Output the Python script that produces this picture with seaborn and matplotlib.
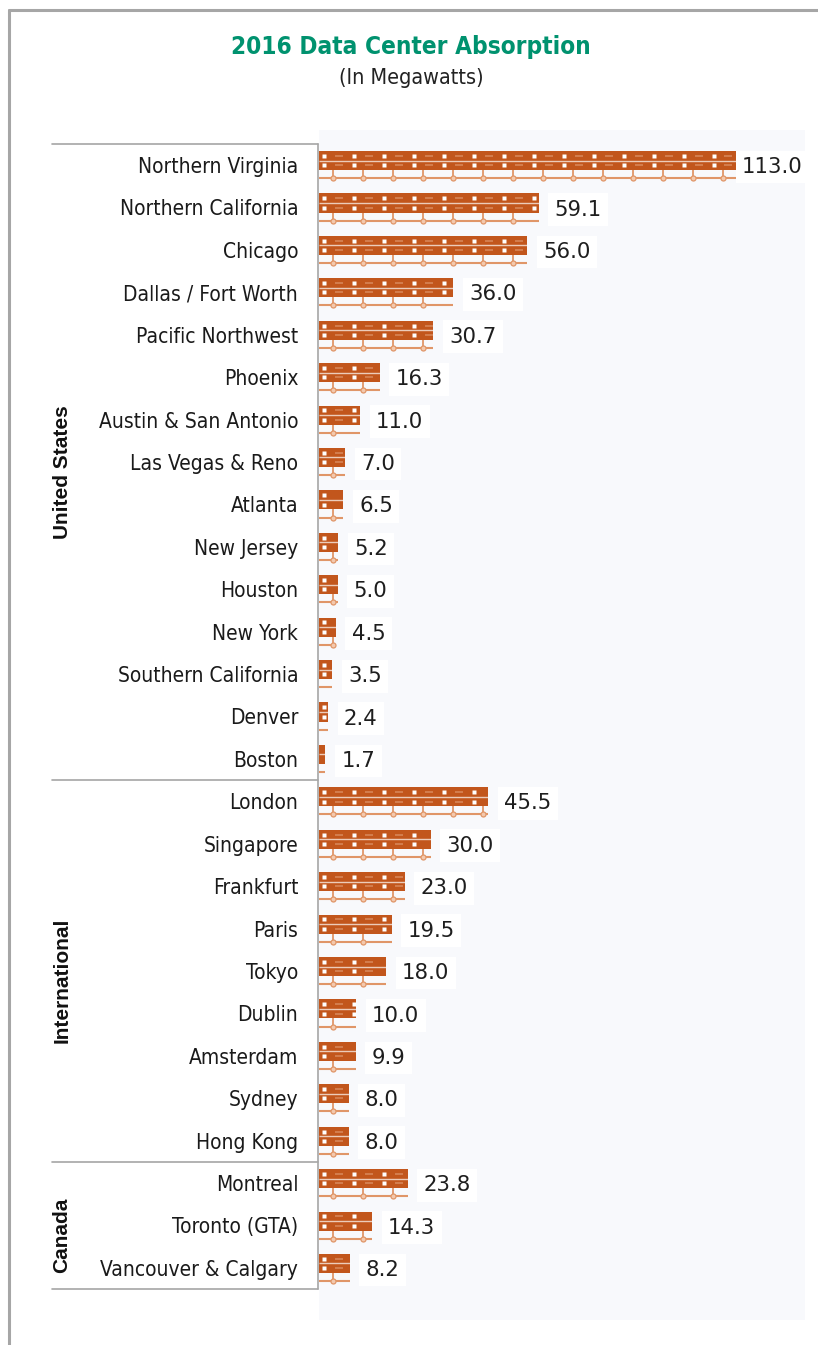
import matplotlib
matplotlib.use("Agg")
import matplotlib.pyplot as plt
from matplotlib import font_manager as fm
import seaborn as sns
import pandas as pd
import numpy as np
from matplotlib.lines import Line2D

# ---------------- data ----------------
us_cities = ["Northern Virginia", "Northern California", "Chicago", "Dallas / Fort Worth",
             "Pacific Northwest", "Phoenix", "Austin & San Antonio", "Las Vegas & Reno",
             "Atlanta", "New Jersey", "Houston", "New York", "Southern California",
             "Denver", "Boston"]
us_values = [113.0, 59.1, 56.0, 36.0, 30.7, 16.3, 11.0, 7.0, 6.5, 5.2, 5.0, 4.5, 3.5, 2.4, 1.7]

intl_cities = ["London", "Singapore", "Frankfurt", "Paris", "Tokyo", "Dublin",
               "Amsterdam", "Sydney", "Hong Kong"]
intl_values = [45.5, 30.0, 23.0, 19.5, 18.0, 10.0, 9.9, 8.0, 8.0]

canada_cities = ["Montreal", "Toronto (GTA)", "Vancouver & Calgary"]
canada_values = [23.8, 14.3, 8.2]

region_names = ["United States", "International", "Canada"]

title = "2016 Data Center Absorption"
subtitle = "(In Megawatts)"

# ---------------- build table ----------------
cities = us_cities + intl_cities + canada_cities
values = us_values + intl_values + canada_values
regions = ([region_names[0]] * len(us_cities) + [region_names[1]] * len(intl_cities)
           + [region_names[2]] * len(canada_cities))
df = pd.DataFrame({"city": cities, "value": values, "region": regions})

sns.set_theme(style="white")
plt.rcParams["font.family"] = ["DejaVu Sans"]

# condensed face if available
cond_path = fm.findfont(fm.FontProperties(family="DejaVu Sans", stretch="condensed"))
HAS_COND = "Condensed" in cond_path
NARROW_KW = dict(family="DejaVu Sans", fontstretch="condensed") if HAS_COND else dict(family="DejaVu Sans")
scale = 1.0 if HAS_COND else 0.9

BAR = "#C2561C"
LIGHT = "#E09668"
GREEN = "#00926F"
GRAY = "#A6A6A6"

W, H = 818, 1345
fig = plt.figure(figsize=(W / 100, H / 100), dpi=100)
fig.patch.set_facecolor("white")

ax_left, ax_right = 319, 805
ax_top, ax_bot = 130, 1320
ax = fig.add_axes([ax_left / W, 1 - ax_bot / H, (ax_right - ax_left) / W, (ax_bot - ax_top) / H])
ax.set_facecolor("#F8F9FC")

sns.barplot(data=df, y="city", x="value", orient="h", order=cities, color=BAR,
            saturation=1, width=0.45, ax=ax, errorbar=None)

step_px = 42.42
ymin_d = (ax_top - 165) / step_px
ymax_d = (ax_bot - 165) / step_px
xmax_d = (ax_right - ax_left) / 3.72
ax.set_ylim(ymax_d, ymin_d)
ax.set_xlim(0, xmax_d)

shift = -0.105
for p in ax.patches:
    p.set_y(p.get_y() + shift)
    p.set_edgecolor("none")

unit = 8.06
for i, v in enumerate(values):
    mid = i + shift
    ax.hlines(mid, 0, v, color="white", lw=1.0, alpha=0.7, zorder=3)
    ax.hlines(i + 0.31, 0, v, color=LIGHT, lw=1.5, zorder=2)
    dx = np.arange(1.3, v - 0.6, unit)
    if len(dx):
        for yy in (i - 0.215, i + 0.005):
            ax.plot(dx, [yy] * len(dx), ls="none", marker="s", ms=2.4,
                    mfc="white", mec="none", zorder=4)
            sx = dx + 4.0
            sx = sx[sx < v - 1.2]
            ax.plot(sx, [yy] * len(sx), ls="none", marker="_", ms=6, mew=1.1,
                    color="#D9895C", zorder=4)
    nx = np.arange(3.8, v - 0.6, unit)
    if len(nx):
        ax.vlines(nx, i + 0.12, i + 0.31, color=LIGHT, lw=1.3, zorder=2)
        ax.plot(nx, [i + 0.31] * len(nx), ls="none", marker="o", ms=3.6,
                mfc="#F3C9AE", mec=LIGHT, mew=0.9, zorder=3)

vmax = max(values)
for i, v in enumerate(values):
    pad = 2 if v == vmax else 11.5
    ax.annotate(f"{v:.1f}", xy=(v, i + 0.05), xytext=(pad, 0), textcoords="offset points",
                va="center", ha="left", fontsize=15.3, color="#1E1E1E",
                family="DejaVu Sans", annotation_clip=False,
                bbox=dict(boxstyle="square,pad=0.3", fc="white", ec="none"), zorder=5)

# axes cosmetics
for s in ax.spines.values():
    s.set_visible(False)
ax.set_xlabel("")
ax.set_ylabel("")
ax.set_xticks([])
ax.tick_params(axis="y", length=0, pad=15)
for lab in ax.get_yticklabels():
    lab.set_fontfamily(NARROW_KW["family"])
    if HAS_COND:
        lab.set_fontstretch("condensed")
    lab.set_fontsize(15 * scale)
    lab.set_color("#1A1A1A")

trans = ax.get_yaxis_transform()
n_us, n_int, n_ca = len(us_cities), len(intl_cities), len(canada_cities)
bounds = [-0.5, n_us - 0.5, n_us + n_int - 0.5, n_us + n_int + n_ca - 0.5]
x_sep = (52 - ax_left) / (ax_right - ax_left)
ax.plot([-0.002, -0.002], [bounds[0], bounds[-1]], transform=trans, color=GRAY, lw=1.2,
        clip_on=False, zorder=6)
for b in bounds:
    ax.plot([x_sep, -0.002], [b, b], transform=trans, color=GRAY, lw=1.2, clip_on=False)

x_grp = (62 - ax_left) / (ax_right - ax_left)
starts = [0, n_us, n_us + n_int]
counts = [n_us, n_int, n_ca]
for name, s0, c in zip(region_names, starts, counts):
    ax.text(x_grp, s0 + (c - 1) / 2 + 0.23, name, transform=trans, rotation=90, ha="center",
            va="center", fontsize=15, fontweight="bold", family=["Liberation Sans", "DejaVu Sans"],
            color="#111111")

# titles
fig.text(411 / W, 1 - 47 / H, title, ha="center", va="center", fontsize=17.5 * scale,
         fontweight="bold", color=GREEN, **NARROW_KW)
fig.text(411 / W, 1 - 78 / H, subtitle, ha="center", va="center", fontsize=15.5 * scale,
         color="#222222", **NARROW_KW)

# outer frame (top and left)
fig.add_artist(Line2D([9 / W, 9 / W], [0, 1 - 10 / H], color=GRAY, lw=2.2))
fig.add_artist(Line2D([9 / W, 1], [1 - 10 / H, 1 - 10 / H], color=GRAY, lw=2.2))

fig.savefig("out.png", dpi=100, facecolor="white")
